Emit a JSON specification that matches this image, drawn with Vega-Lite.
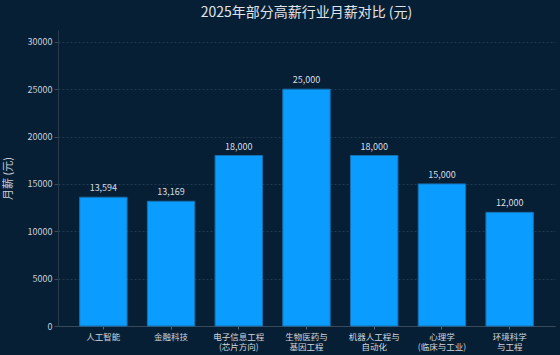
{
  "$schema": "https://vega.github.io/schema/vega-lite/v6.json",
  "width": 497,
  "height": 296,
  "autosize": "none",
  "padding": {"left": 58, "top": 30, "right": 5, "bottom": 29},
  "background": "#071f34",
  "config": {
    "font": "Noto Sans CJK SC",
    "view": {"stroke": null}
  },
  "title": {
    "text": "2025年部分高薪行业月薪对比 (元)",
    "fontSize": 14,
    "fontWeight": "normal",
    "color": "#e0e4ea",
    "anchor": "middle",
    "offset": 10
  },
  "data": {
    "values": [
      {"industry": "人工智能", "salary": 13594},
      {"industry": "金融科技", "salary": 13169},
      {"industry": "电子信息工程|(芯片方向)", "salary": 18000},
      {"industry": "生物医药与|基因工程", "salary": 25000},
      {"industry": "机器人工程与|自动化", "salary": 18000},
      {"industry": "心理学|(临床与工业)", "salary": 15000},
      {"industry": "环境科学|与工程", "salary": 12000}
    ]
  },
  "encoding": {
    "x": {
      "field": "industry",
      "type": "nominal",
      "sort": null,
      "scale": {"paddingInner": 0.3, "paddingOuter": 0.32},
      "axis": {
        "title": null,
        "labelAngle": 0,
        "labelExpr": "split(datum.label, '|')",
        "labelColor": "#d0d6de",
        "labelFontSize": 8.5,
        "labelPadding": 3,
        "labelLineHeight": 10.5,
        "tickColor": "#5a6a7a",
        "tickSize": 3,
        "domainColor": "#3a4a5a",
        "grid": false
      }
    },
    "y": {
      "field": "salary",
      "type": "quantitative",
      "scale": {"domain": [0, 31250], "nice": false},
      "axis": {
        "title": "月薪 (元)",
        "titleColor": "#c8d0da",
        "titleFontSize": 11,
        "titleFontWeight": "normal",
        "titlePadding": 14,
        "values": [0, 5000, 10000, 15000, 20000, 25000, 30000],
        "format": "d",
        "labelColor": "#c8d0da",
        "labelFontSize": 9,
        "tickColor": "#3a4a5a",
        "tickSize": 4,
        "domainColor": "#2a3a4a",
        "gridColor": "#1f3a52",
        "gridDash": [2, 2],
        "gridOpacity": 1
      }
    }
  },
  "layer": [
    {
      "mark": {"type": "bar", "color": "#0a9cff", "stroke": "#1670b0", "strokeWidth": 1}
    },
    {
      "mark": {"type": "text", "dy": -9, "fontSize": 9, "color": "#d8dee6"},
      "encoding": {
        "text": {"field": "salary", "type": "quantitative", "format": ","}
      }
    }
  ]
}
